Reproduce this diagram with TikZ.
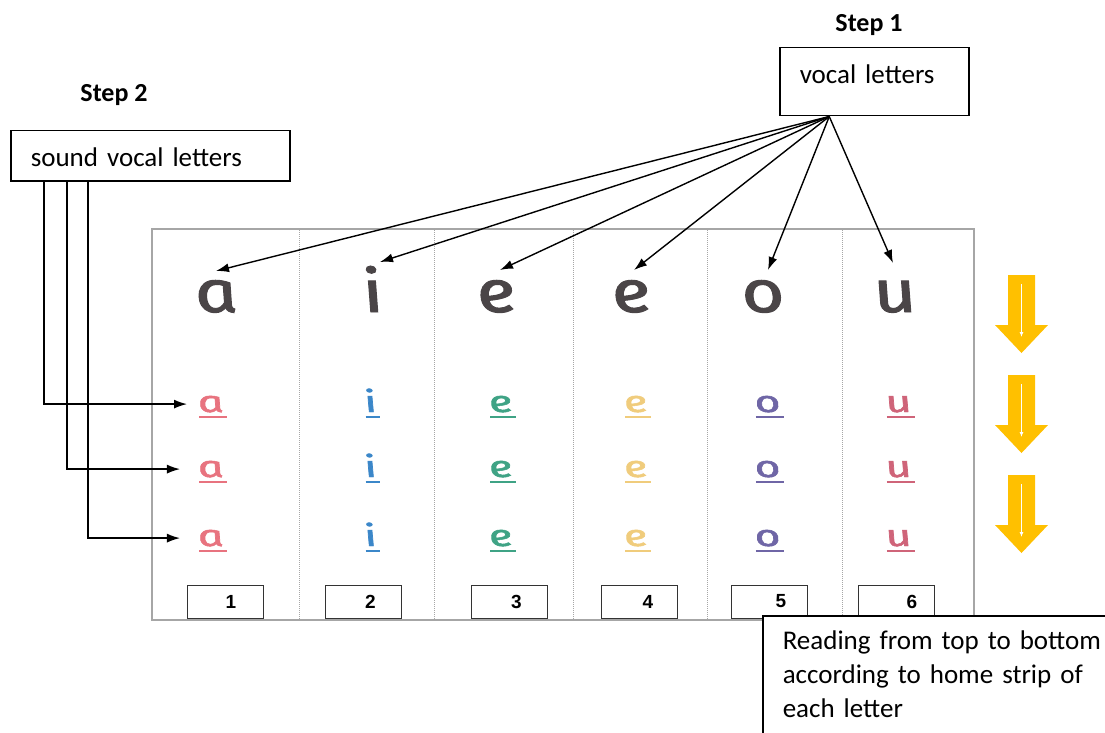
\documentclass[tikz,border=0pt]{standalone}
\usepackage{fontspec}
\setmainfont{Carlito}
\newfontfamily\kid{Fira Sans Italic}[FakeSlant=-0.2, FakeBold=1.6]
\newfontfamily\numf{Liberation Sans Bold}
\usetikzlibrary{arrows.meta}
\definecolor{framegray}{HTML}{A6A6A6}
\definecolor{bigl}{HTML}{4A4547}
\definecolor{ca}{HTML}{E8737F}
\definecolor{ci}{HTML}{3B87C9}
\definecolor{ce}{HTML}{3FA385}
\definecolor{cy}{HTML}{F0CC7C}
\definecolor{co}{HTML}{6F66A6}
\definecolor{cu}{HTML}{CF6479}
\definecolor{gold}{HTML}{FFC000}
\begin{document}
\begin{tikzpicture}[x=1pt,y=-1pt,
  stepl/.style={font=\bfseries\fontsize{26}{30}\selectfont, inner sep=0pt, anchor=base},
  tbox/.style={draw, line width=1.5pt, anchor=north west, inner xsep=20pt, inner ysep=0pt, align=left, font=\fontsize{27}{34}\selectfont},
  arr/.style={line width=1.4pt, -{Latex[length=13pt,width=9pt]}},
  bigletter/.style={font=\kid\fontsize{59}{60}\selectfont, text=bigl, inner sep=0pt, anchor=base},
  smallletter/.style={font=\kid\fontsize{30}{32}\selectfont, inner sep=0pt, anchor=base},
  ul/.style={line width=2.6pt, shorten <=-1pt, shorten >=-1pt},
  numbox/.style={draw=black!80, line width=1pt, minimum width=76pt, minimum height=33pt, inner sep=0pt, font=\numf\fontsize{19}{22}\selectfont},
  tableframe/.style={draw=framegray, line width=1.3pt},
  divider/.style={draw=framegray, line width=1pt, densely dotted},
  yarrow/.style={fill=gold, draw=none},
  warrow/.style={draw=white, line width=1.4pt, -{Latex[length=5pt,width=4pt]}}
]
\useasboundingbox (0,0) rectangle (1105,733);
\clip (0,0) rectangle (1105,733);
\fill[white] (0,0) rectangle (1105,733);

% table frame and dividers
\draw[tableframe] (152,229) rectangle (974,620);
\foreach \x in {299,434,573,707,842} \draw[divider] (\x,230) -- (\x,619);

% big letters
\node[bigletter] (b1) at (220,312) {\scalebox{1.26}[1]{a}};
\node[bigletter] (b2) at (377,312) {\scalebox{1.26}[1]{i}};
\node[bigletter] (b3) at (500,312) {\scalebox{1.26}[1]{e}};
\node[bigletter] (b4) at (635,312) {\scalebox{1.26}[1]{e}};
\node[bigletter] (b5) at (767,312) {\scalebox{1.26}[1]{o}};
\node[bigletter] (b6) at (899,312) {\scalebox{1.26}[1]{u}};

% small coloured letters
\foreach \r/\y in {1/412,2/477,3/546}{
  \foreach \c/\x/\l/\col in {1/213/a/ca,2/373/i/ci,3/503/e/ce,4/638/e/cy,5/770/o/co,6/901/u/cu}{
    \node[smallletter, text=\col] (s\r\c) at (\x,\y) {\scalebox{1.5}[1]{\l}};
    \draw[ul, draw=\col] ([yshift=-5pt]s\r\c.base west) -- ([yshift=-5pt]s\r\c.base east);
  }
}

% number boxes
\node[numbox] (n1) at (225,601.5) {\hspace*{12pt}1};
\node[numbox] (n2) at (363.5,601.5) {\hspace*{14pt}2};
\node[numbox] (n3) at (509.5,601.5) {\hspace*{14pt}3};
\node[numbox] (n4) at (639,601.5) {\hspace*{18pt}4};
\node[numbox] (n5) at (769,601.5) {\hspace*{24pt}5};
\node[numbox] (n6) at (896,601.5) {\hspace*{32pt}6};

% yellow arrows
\foreach \t in {275,375,475}{
  \path[yarrow] (1008,\t) -- (1035,\t) -- (1035,\t+50) -- (1048,\t+50) -- (1021.5,\t+78)
     -- (995,\t+50) -- (1008,\t+50) -- cycle;
  \draw[warrow] (1021.5,\t+9) -- (1021.5,\t+62);
}

% step 1
\node[stepl] (st1) at (869,32) {Step 1};
\node[tbox, text width=149pt, text height=36pt, text depth=32pt] (v1) at (779,47) {vocal letters};
\coordinate (c1) at ([xshift=-45pt]v1.south);
\coordinate (t1) at (216,271);
\coordinate (t2) at (380,262);
\coordinate (t3) at (500,270);
\coordinate (t4) at (634,270);
\coordinate (t5) at (768,270);
\coordinate (t6) at (893,263);
\foreach \i in {1,...,6} \draw[arr] (c1) -- (t\i);

% step 2
\node[stepl] (st2) at (114,102) {Step 2};
\node[tbox, text width=239pt, text height=36pt, text depth=14pt] (v2) at (10,130) {sound vocal letters};
\draw[arr] ([xshift=34pt]v2.south west) |- ([xshift=-13pt]s11.west);
\draw[arr] ([xshift=57pt]v2.south west) |- ([xshift=-20pt]s21.west);
\draw[arr] ([xshift=78pt]v2.south west) |- ([xshift=-20pt]s31.west);

% reading note
\node[tbox, draw=none, fill=white, inner xsep=19pt, text width=330pt, text height=33pt, text depth=20pt] (rb) at (763,616)
  {Reading from top to bottom\\according to home strip of\\each letter};
\coordinate (rbb) at (763,745);
\draw[line width=1.5pt] (rb.north east) -- (rb.north west) -- (rbb);
\end{tikzpicture}
\end{document}
